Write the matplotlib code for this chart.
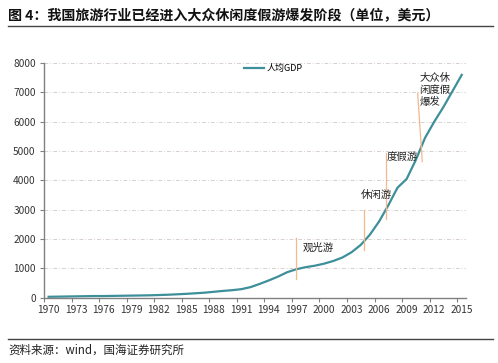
import matplotlib
matplotlib.use("Agg")
import matplotlib.pyplot as plt
import numpy as np

plt.rcParams['font.family'] = ['Noto Sans CJK SC', 'DejaVu Sans']

# 人均GDP (美元), 1970-2015
years = list(range(1970, 2016))
gdp = [30, 35, 40, 45, 50, 55, 55, 60, 65, 70,
       75, 80, 90, 100, 115, 130, 150, 170, 200, 230,
       255, 290, 360, 470, 590, 720, 870, 970, 1040, 1090,
       1160, 1250, 1370, 1550, 1800, 2150, 2600, 3150, 3750, 4050,
       4700, 5450, 6000, 6500, 7050, 7600]

# stage markers: label, x (index), line bottom, line top, text x, text y
stages = ["观光游", "休闲游", "度假游", "大众休\n闲度假\n爆发"]
stage_x = [27.0, 34.3, 36.7, 40.2]
stage_x2 = [27.0, 34.3, 36.7, 40.7]
stage_lo = [640, 1630, 2680, 4640]
stage_hi = [2040, 2990, 4940, 6975]
text_x = [27.7, 34.0, 36.8, 40.4]
text_y = [1700, 3500, 4790, 7090]

title = "图 4：我国旅游行业已经进入大众休闲度假游爆发阶段（单位，美元）"
source = "资料来源：wind，国海证券研究所"

fig = plt.figure(figsize=(4.98, 3.63), dpi=100)
ax = fig.add_axes([0.0884, 0.180, 0.848, 0.646])

idx = np.arange(len(years))
ax.plot(idx, gdp, color='#3d8f9a', lw=1.6, label='人均GDP')

for i in range(len(stages)):
    ax.plot([stage_x[i], stage_x2[i]], [stage_hi[i], stage_lo[i]],
            color='#f3b88e', lw=0.9)
    ax.text(text_x[i], text_y[i], stages[i], fontsize=7.5, color='#222222',
            va='center', ha='left', linespacing=1.2)

ax.set_xlim(-0.5, len(years) - 0.5)
ax.set_ylim(0, 8000)
ax.set_yticks(range(0, 8001, 1000))

# tick marks at category boundaries, labels at category centres
ax.set_xticks(np.arange(-0.5, len(years) - 0.5, 3))
ax.set_xticklabels([])
ax.set_xticks(idx[::3], minor=True)
ax.set_xticklabels([str(y) for y in years[::3]], minor=True)
ax.tick_params(axis='x', which='major', length=3, color='#808080')
ax.tick_params(axis='x', which='minor', length=0, pad=5, labelsize=7.3,
               labelcolor='#333333')
ax.tick_params(axis='y', length=3, color='#808080', labelsize=7.3,
               labelcolor='#333333', pad=3)

for s in ['top', 'right']:
    ax.spines[s].set_visible(False)
for s in ['left', 'bottom']:
    ax.spines[s].set_color('#808080')
    ax.spines[s].set_linewidth(1.0)

ax.grid(axis='y', color='#d8d0d0', linestyle=(0, (4, 2, 1, 2)), lw=0.7)
ax.set_axisbelow(True)

ax.legend(loc='upper left', bbox_to_anchor=(0.455, 1.03), frameon=False,
          fontsize=6.5, handlelength=2.2, handletextpad=0.3)

fig.text(0.016, 0.956, title, fontsize=10.1, fontweight='bold',
         ha='left', va='center', color='#111111')
fig.add_artist(plt.Line2D([0.016, 0.99], [0.928, 0.928],
                          color='#444444', lw=1.0))
fig.add_artist(plt.Line2D([0.016, 0.99], [0.065, 0.065],
                          color='#444444', lw=1.0))
fig.text(0.016, 0.035, source, fontsize=8.3, ha='left', va='center',
         color='#222222')

fig.savefig("out.png", dpi=100)
